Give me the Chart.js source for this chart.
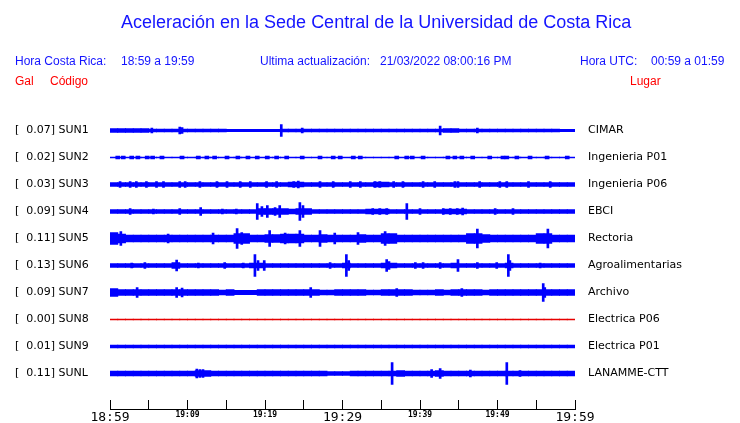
<!DOCTYPE html>
<html>
<head>
<meta charset="utf-8">
<script src="https://cdn.jsdelivr.net/npm/chart.js@4/dist/chart.umd.min.js"></script>
<style>
  body { margin: 0; background: #fff; }
  #wrap { position: relative; width: 740px; height: 423px; overflow: hidden; }
  #chart { position: absolute; left: 0; top: 0; }
  .txt { position: absolute; font-family: "Liberation Sans", Arial, sans-serif; white-space: pre; }
  .title { font-size: 18px; line-height: 18px; color: #1414ff; }
  .head { font-size: 12px; line-height: 12px; color: #1414ff; }
  .red { font-size: 12px; line-height: 12px; color: #f00; }
</style>
</head>
<body>
<div id="wrap">
  <canvas id="chart" width="740" height="423"></canvas>
  <div class="txt title" style="left:121px; top:13px;">Aceleración en la Sede Central de la Universidad de Costa Rica</div>
  <div class="txt head" style="left:15px; top:55px;">Hora Costa Rica:</div>
  <div class="txt head" style="left:121px; top:55px;">18:59 a 19:59</div>
  <div class="txt head" style="left:260px; top:55px;">Ultima actualización:</div>
  <div class="txt head" style="left:380px; top:55px;">21/03/2022 08:00:16 PM</div>
  <div class="txt head" style="left:580px; top:55px;">Hora UTC:</div>
  <div class="txt head" style="left:651px; top:55px;">00:59 a 01:59</div>
  <div class="txt red" style="left:15px; top:75px;">Gal</div>
  <div class="txt red" style="left:50px; top:75px;">Código</div>
  <div class="txt red" style="left:630px; top:75px;">Lugar</div>
</div>
<script>
const stations = ['SUN1', 'SUN2', 'SUN3', 'SUN4', 'SUN5', 'SUN6', 'SUN7', 'SUN8', 'SUN9', 'SUNL'];
const peakGal = [0.07, 0.02, 0.03, 0.09, 0.11, 0.13, 0.09, 0.00, 0.01, 0.11];
const places = ['CIMAR', 'Ingenieria P01', 'Ingenieria P06', 'EBCI', 'Rectoria',
  'Agroalimentarias', 'Archivo', 'Electrica P06', 'Electrica P01', 'LANAMME-CTT'];
const xTickLabels = ['18:59', '', '19:09', '', '19:19', '', '19:29', '', '19:39', '', '19:49', '', '19:59'];

// amplitude envelope per minute (minute 0 = 18:59), in trace units (27 units = row spacing)
const sun1Base = [2, 2, 2, 2, 2, 1.5, 1.5, 1.5, 1.5, 1.5,
  1.5, 1.5, 1.5, 1.5, 1.5, 1.2, 1.2, 1.2, 1.2, 1.2,
  1.2, 1.2, 1.5, 1.5, 1.5, 1.5, 1.5, 1.5, 1.5, 1.5,
  1.5, 1.5, 1.5, 1.5, 1.5, 1.5, 1.5, 1.5, 1.5, 1.5,
  1.5, 1.5, 1.5, 2, 2, 1.5, 1.5, 1.5, 1.5, 1.5,
  1.5, 1.5, 1.5, 1.5, 1.5, 1.5, 1.5, 1.5, 1.2, 1.2];
const sun2Base = [0.5, 0.5, 0.5, 0.5, 0.5, 0.5, 0.5, 0.5, 0.5, 0.5,
  0.5, 0.5, 0.5, 0.5, 0.5, 0.5, 0.5, 0.5, 0.5, 0.5,
  0.5, 0.5, 0.5, 0.5, 0.5, 0.5, 0.5, 0.5, 0.5, 0.5,
  0.5, 0.5, 0.5, 0.5, 0.5, 0.5, 0.5, 0.5, 0.5, 0.5,
  0.5, 0.5, 0.5, 0.5, 0.5, 0.5, 0.5, 0.5, 0.5, 0.5,
  0.5, 0.5, 0.5, 0.5, 0.5, 0.5, 0.5, 0.5, 0.5, 0.5];
const sun3Base = [2, 2, 2, 2, 2, 2, 2, 2, 2, 2,
  2, 2, 2, 2, 2, 2, 2, 2, 2, 2,
  2, 2, 2, 2.3, 2.3, 2, 2, 2, 2, 2,
  2, 2, 2, 2, 2.3, 2.3, 2, 2, 2, 2,
  2, 2, 2, 2, 2, 2, 2, 2, 2, 2,
  2, 2, 2, 2, 2, 2, 2, 2, 2, 2];
const sun4Base = [2, 2, 2, 2, 2, 2, 2, 2, 2, 2,
  2, 2, 2, 2, 2, 2, 2, 2, 2, 3,
  3, 3, 3, 2.5, 3, 3, 2, 2, 2, 2,
  2, 2, 2, 2.5, 2.5, 2.5, 2, 2, 2, 2,
  2, 2, 2, 2.5, 2.5, 2.5, 2, 2, 2, 2,
  2, 2, 2, 2, 2, 2, 2, 2, 2, 2];
const sun5Base = [6, 4.5, 3.5, 3.5, 3.5, 3.5, 3.5, 3.5, 3.5, 3.5,
  3.5, 3.5, 3.5, 3.5, 3.5, 3.5, 5, 5, 3.5, 3.5,
  4, 4, 4.5, 4.5, 4.5, 3.5, 3.5, 4, 3.5, 3.5,
  3.5, 3.5, 4, 3.5, 3.5, 5, 5, 3.5, 3.5, 3.5,
  3.5, 3.5, 3.5, 3.5, 3.5, 3.5, 5, 5, 4, 3.5,
  3.5, 3.5, 3.5, 3.5, 3.5, 5, 5, 3.5, 3.5, 3.5];
const sun6Base = [2, 2, 2, 2, 2, 2, 2, 2, 3, 2,
  2, 2, 2, 2, 2, 2, 2, 2, 2.5, 2.5,
  2, 2, 2, 2, 2, 2, 2, 2, 2, 2,
  2.5, 2, 2, 2, 2, 2.5, 2.5, 2, 2, 2,
  2, 2, 2, 2, 2.5, 2, 2, 2, 2, 2,
  2, 2.5, 2, 2, 2, 2, 2, 2, 2, 2];
const sun7Base = [4, 3, 3, 3, 3, 3, 3, 3, 3, 3,
  3, 3, 3, 3, 2.5, 3, 2.2, 2.2, 2.2, 3,
  3, 3, 3, 3, 3, 3, 3, 2.5, 2.5, 3,
  3, 3, 3, 2.5, 2.5, 3, 3, 3, 3, 2.5,
  2.5, 2.5, 3, 2.5, 3, 3, 3, 3, 2.5, 3,
  3, 3, 3, 3, 3, 3, 3, 3, 3, 3];
const sun8Base = [0.5, 0.5, 0.5, 0.5, 0.5, 0.5, 0.5, 0.5, 0.5, 0.5,
  0.5, 0.5, 0.5, 0.5, 0.5, 0.5, 0.5, 0.5, 0.5, 0.5,
  0.5, 0.5, 0.5, 0.5, 0.5, 0.5, 0.5, 0.5, 0.5, 0.5,
  0.5, 0.5, 0.5, 0.5, 0.5, 0.5, 0.5, 0.5, 0.5, 0.5,
  0.5, 0.5, 0.5, 0.5, 0.5, 0.5, 0.5, 0.5, 0.5, 0.5,
  0.5, 0.5, 0.5, 0.5, 0.5, 0.5, 0.5, 0.5, 0.5, 0.5];
const sun9Base = [1.5, 1.5, 1.5, 1.5, 1.5, 1.5, 1.5, 1.5, 1.5, 1.5,
  1.5, 1.5, 1.5, 1.5, 1.5, 1.5, 1.5, 1.5, 1.5, 1.5,
  1.5, 1.5, 1.5, 1.5, 1.5, 1.5, 1.5, 1.5, 1.5, 1.5,
  1.5, 1.5, 1.5, 1.5, 1.5, 1.5, 1.5, 1.5, 1.5, 1.5,
  1.5, 1.5, 1.5, 1.5, 1.5, 1.5, 1.5, 1.5, 1.5, 1.5,
  1.5, 1.5, 1.5, 1.5, 1.5, 1.5, 1.5, 1.5, 1.5, 1.5];
const sunlBase = [2.5, 2.5, 2.5, 2.5, 2.5, 2.5, 2.5, 2.5, 2.5, 2.5,
  2.5, 3, 3, 2.5, 2.5, 2.5, 2.5, 2.5, 2.5, 2.5,
  2.5, 2.5, 2.5, 2.5, 2.5, 2.5, 2.5, 2.5, 2, 2,
  2, 2.5, 2.5, 2.5, 2.5, 2.5, 2.5, 3, 2.5, 2.5,
  2.5, 2.5, 3, 2.5, 2.5, 2.5, 2.5, 2.5, 2.5, 2.5,
  2.5, 2.5, 2.5, 2.5, 2.5, 2.5, 2.5, 2.5, 2.5, 2.5];

// short bursts: [minute, amplitude]
const sun1Bursts = [[5.4, 2.5], [9.0, 3.5], [9.3, 3], [22.1, 6], [24.8, 2.5], [42.6, 4.5], [47.4, 2.5]];
const sun2Bursts = [[1, 1.5], [1.7, 1.5], [2.8, 1.5], [3.6, 1.5], [4.8, 1.5], [5.5, 1.5], [6.7, 1.5],
  [9.3, 1.5], [11.4, 1.5], [12.5, 1.5], [13.5, 1.5], [15.1, 1.5], [16.5, 1.5], [17.8, 1.5], [19, 1.5],
  [20.3, 1.5], [21.5, 1.5], [22.8, 1.5], [24.8, 1.5], [27.1, 1.5], [28.8, 1.5], [29.7, 1.5], [31.4, 1.5],
  [32.3, 1.5], [37, 1.5], [38.3, 1.5], [39, 1.5], [40.4, 1.5], [43.6, 1.5], [44.5, 1.5], [45.4, 1.5],
  [46.8, 1.5], [49, 1.5], [50.7, 1.5], [51.2, 1.5], [52.5, 1.5], [54.2, 1.5], [56.4, 1.5], [59, 1.5]];
const sun3Bursts = [[1.3, 3], [2.6, 3], [3.4, 3], [4.7, 3], [6.0, 3], [6.9, 3], [9.0, 3], [9.7, 3],
  [11.6, 3], [13.8, 3], [15.1, 3], [16.8, 3], [18.1, 3], [20.2, 3], [21.5, 3], [23.7, 3], [24.3, 3.5],
  [27.1, 3], [28.8, 3], [31.0, 3], [32.3, 3], [34.2, 3], [34.8, 3], [36.6, 3], [37.8, 3], [40.4, 3],
  [41.9, 3], [44.5, 3], [44.9, 3], [47.7, 3], [50.3, 3], [51.2, 3], [54.0, 3], [56.8, 3]];
const sun4Bursts = [[2.6, 3], [5.6, 2.5], [9.0, 3], [11.7, 4], [14.5, 2.5], [16.3, 2.5], [19.0, 8],
  [19.6, 5], [20.3, 6], [21.3, 4], [21.9, 6], [24.5, 9], [24.9, 6], [33.9, 3], [34.8, 3], [35.7, 3],
  [38.3, 8], [40, 3], [43, 3], [43.9, 3], [44.8, 3], [45.5, 3.5], [49.7, 3], [52, 3]];
const sun5Bursts = [[1.4, 7], [7.5, 4.5], [13.3, 5.5], [16.4, 10], [17, 6], [20.6, 8], [22.6, 5.5],
  [24.5, 8], [27.1, 8], [29, 5.5], [32, 6], [35.5, 7], [47.4, 9.5], [56.5, 9.5]];
const sun6Bursts = [[2.8, 2.5], [4.5, 3], [8.6, 5.5], [11.4, 2.5], [14.8, 3], [17.2, 2.5], [18.7, 11],
  [19.1, 5], [19.9, 5], [28.4, 3], [30.5, 11], [30.8, 5], [35.7, 6], [36, 4], [39.4, 3], [40.4, 3],
  [42.6, 3], [44.9, 6], [47.4, 3], [49.9, 3], [51.4, 11], [51.6, 5], [55.5, 2.5]];
const sun7Bursts = [[3.5, 5], [8.6, 5], [9.3, 4.5], [25.9, 5], [37, 4], [45.4, 4], [55.9, 9], [56.1, 5]];
const sun8Bursts = [];
const sun9Bursts = [];
const sunlBursts = [[11.2, 4.5], [11.6, 4], [12, 4], [36.4, 11], [41.5, 4], [42.6, 5], [46.5, 3.5],
  [51.2, 11], [52.9, 3]];

const baseLevels = [sun1Base, sun2Base, sun3Base, sun4Base, sun5Base, sun6Base, sun7Base, sun8Base, sun9Base, sunlBase];
const bursts = [sun1Bursts, sun2Bursts, sun3Bursts, sun4Bursts, sun5Bursts, sun6Bursts, sun7Bursts, sun8Bursts, sun9Bursts, sunlBursts];

const UNITS_PER_ROW = 27;
const BLUE = '#0000ff';
const RED = '#e60000';

const leftLabels = stations.map((st, i) => '[  ' + peakGal[i].toFixed(2) + '] ' + st);

const datasets = [];
stations.forEach((st, r) => {
    const color = st === 'SUN8' ? RED : BLUE;
    datasets.push({
        label: st,
        grouped: false,
        backgroundColor: color,
        borderWidth: 0,
        barThickness: 8,
        data: baseLevels[r].map((a, m) => ({ x: m + 0.5, y: [r - a / UNITS_PER_ROW, r + a / UNITS_PER_ROW] }))
    });
    datasets.push({
        label: st + ' bursts',
        grouped: false,
        backgroundColor: color,
        borderWidth: 0,
        barThickness: st === 'SUN2' ? 4 : 2,
        data: bursts[r].map(([m, a]) => ({ x: m, y: [r - a / UNITS_PER_ROW, r + a / UNITS_PER_ROW] }))
    });
});

Chart.defaults.font.family = 'DejaVu Sans';
Chart.defaults.color = '#000';

// rows sit 27px apart; the plot runs from 103.5px down to the time axis at 409px
const Y_MIN = -1;
const Y_MAX = -1 + (409 - 103.5) / 27;

const rowTicks = (scale) => { scale.ticks = stations.map((_, i) => ({ value: i })); };
const rowFit = (w) => (s) => { s.width = w; s.paddingTop = 0; s.paddingBottom = 0; };

new Chart(document.getElementById('chart'), {
    type: 'bar',
    data: { datasets: datasets },
    options: {
        responsive: false,
        animation: false,
        devicePixelRatio: 1,
        layout: { padding: { top: 103.5, left: 15, right: 0, bottom: 0 } },
        plugins: { legend: { display: false }, tooltip: { enabled: false } },
        scales: {
            x: {
                type: 'linear',
                min: 0,
                max: 60,
                offset: false,
                border: { display: true, color: '#000', width: 1 },
                grid: { display: true, offset: false, drawOnChartArea: false, drawTicks: true, tickLength: -9, color: '#000', lineWidth: 1 },
                ticks: {
                    stepSize: 5,
                    autoSkip: false,
                    maxRotation: 0,
                    padding: 10,
                    color: '#000',
                    font: (c) => c.index % 6 === 0
                        ? { family: 'DejaVu Sans Mono', size: 13 }
                        : { family: 'DejaVu Sans Mono', size: 8, weight: 'bold' },
                    callback: (v, i) => xTickLabels[i]
                },
                afterFit: (s) => { s.height = 14; }
            },
            y: {
                type: 'linear',
                position: 'left',
                reverse: true,
                min: Y_MIN,
                max: Y_MAX,
                border: { display: false },
                grid: { display: false, drawTicks: false },
                afterBuildTicks: rowTicks,
                ticks: {
                    autoSkip: false,
                    crossAlign: 'far',
                    padding: 0,
                    font: { size: 11 },
                    callback: (v, i) => leftLabels[i]
                },
                afterFit: rowFit(95)
            },
            y2: {
                type: 'linear',
                position: 'right',
                reverse: true,
                min: Y_MIN,
                max: Y_MAX,
                border: { display: false },
                grid: { display: false, drawTicks: false },
                afterBuildTicks: rowTicks,
                ticks: {
                    autoSkip: false,
                    crossAlign: 'near',
                    padding: 13,
                    font: { size: 11 },
                    callback: (v, i) => places[i]
                },
                afterFit: rowFit(165)
            }
        }
    }
});
</script>
</body>
</html>
